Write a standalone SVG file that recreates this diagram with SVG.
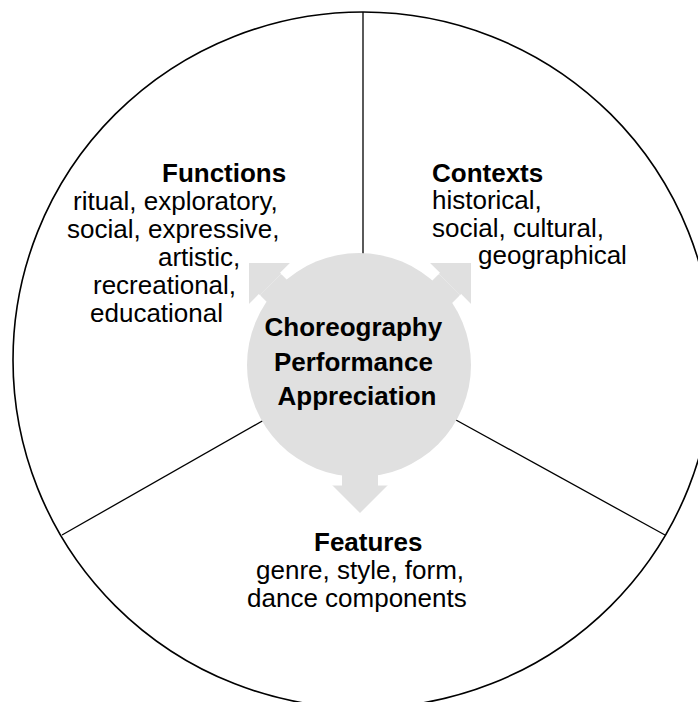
<svg xmlns="http://www.w3.org/2000/svg" width="698" height="702" viewBox="0 0 698 702">
  <style>
    .txt { font-family: "Liberation Sans", Arial, sans-serif; font-size: 26px; fill: #000; }
    .b { font-weight: bold; }
    .rim { fill: #fff; stroke: #000; stroke-width: 1.6; }
    .div { stroke: #000; stroke-width: 1.3; fill: none; }
    .hub { fill: #e0e0e0; }
    .notch { stroke: #fff; stroke-width: 3; fill: none; }
  </style>

  <!-- outer ring -->
  <ellipse id="ring" class="rim" cx="363" cy="360" rx="350" ry="348"/>

  <!-- section dividers -->
  <g id="connectors">
    <line class="div" x1="363" y1="12" x2="363" y2="258"/>
    <line class="div" x1="62" y1="535" x2="264" y2="420"/>
    <line class="div" x1="665" y1="535" x2="456" y2="420"/>
  </g>

  <!-- central hub with three outward arrows -->
  <g id="hub">
    <circle class="hub" cx="359" cy="365" r="112"/>
    <!-- upper-left arrow -->
    <polygon class="hub" points="249,263 292,263 249,306"/>
    <polygon class="hub" points="281.1,273.9 259.9,295.1 289.4,324.6 310.6,303.4"/>
    <path class="notch" d="M249,306 L259.9,295.1 M281.1,273.9 L292,263"/>
    <!-- upper-right arrow -->
    <polygon class="hub" points="471,263 428,263 471,306"/>
    <polygon class="hub" points="438.9,273.9 460.1,295.1 430.6,324.6 409.4,303.4"/>
    <path class="notch" d="M471,306 L460.1,295.1 M438.9,273.9 L428,263"/>
    <!-- downward arrow -->
    <polygon class="hub" points="331,484 389,484 360,513"/>
    <rect class="hub" x="342" y="450" width="36" height="34"/>
    <path class="notch" d="M331,484 L342,484 M378,484 L389,484"/>
    <text class="txt b" text-anchor="middle">
      <tspan x="357" y="336">Choreography</tspan>
      <tspan x="357" y="370.5">Performance</tspan>
      <tspan x="357" y="405">Appreciation</tspan>
    </text>
  </g>

  <g id="functions">
    <text class="txt b" x="162" y="181.5">Functions</text>
    <text class="txt" x="73" y="209.5">ritual, exploratory,</text>
    <text class="txt" x="67" y="237.5">social, expressive,</text>
    <text class="txt" x="158" y="265.5">artistic,</text>
    <text class="txt" x="93" y="293.5">recreational,</text>
    <text class="txt" x="90" y="321.5">educational</text>
  </g>

  <g id="contexts">
    <text class="txt b" x="432" y="181.5">Contexts</text>
    <text class="txt" x="432" y="209">historical,</text>
    <text class="txt" x="432" y="236.5">social, cultural,</text>
    <text class="txt" x="478" y="264">geographical</text>
  </g>

  <g id="features">
    <text class="txt b" x="314" y="551">Features</text>
    <text class="txt" x="256" y="579">genre, style, form,</text>
    <text class="txt" x="247" y="607">dance components</text>
  </g>
</svg>
